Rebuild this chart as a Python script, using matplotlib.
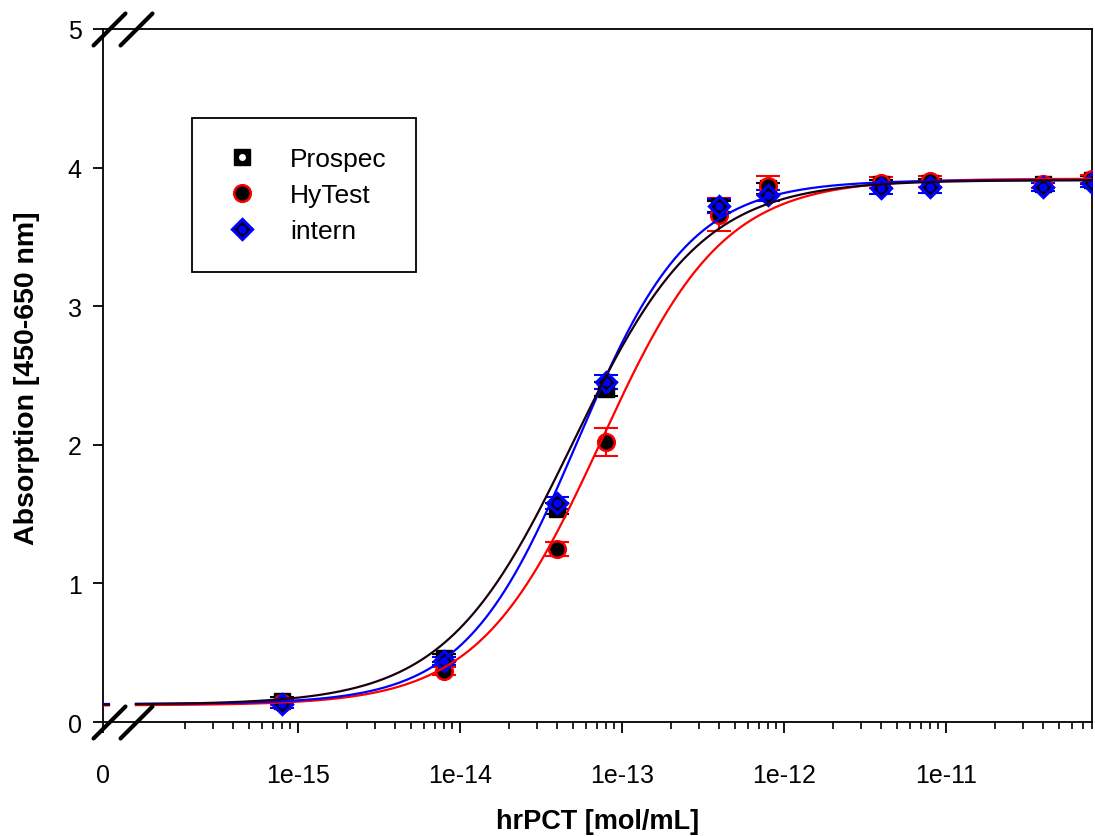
import numpy as np
import matplotlib.pyplot as plt
from matplotlib.lines import Line2D
from matplotlib.markers import MarkerStyle
from matplotlib.ticker import FixedLocator, FixedFormatter, NullFormatter

plt.rcParams['font.family'] = ['Liberation Sans', 'DejaVu Sans']

# hrPCT concentrations (mol/mL)
conc = np.array([8e-16, 8e-15, 4e-14, 8e-14, 4e-13, 8e-13, 4e-12, 8e-12, 4e-11, 8e-11])

prospec = [0.15, 0.46, 1.54, 2.40, 3.72, 3.85, 3.88, 3.89, 3.88, 3.91]
prospec_err = [0.03, 0.03, 0.04, 0.05, 0.04, 0.04, 0.03, 0.03, 0.03, 0.03]
hytest = [0.14, 0.37, 1.25, 2.02, 3.66, 3.87, 3.89, 3.90, 3.88, 3.92]
hytest_err = [0.02, 0.03, 0.05, 0.10, 0.12, 0.07, 0.04, 0.04, 0.03, 0.03]
intern = [0.13, 0.44, 1.58, 2.45, 3.72, 3.80, 3.85, 3.86, 3.86, 3.89]
intern_err = [0.03, 0.03, 0.04, 0.05, 0.05, 0.04, 0.04, 0.04, 0.03, 0.03]

# 4-parameter logistic fits: bottom, top, EC50, hill slope
fit_prospec = (0.125, 3.91, 5.0e-14, 1.10)
fit_hytest = (0.12, 3.92, 7.4e-14, 1.15)
fit_intern = (0.13, 3.91, 5.3e-14, 1.25)

major_ticks = [0, 1e-15, 1e-14, 1e-13, 1e-12, 1e-11]
major_labels = ['0', '1e-15', '1e-14', '1e-13', '1e-12', '1e-11']


def logistic(x, bottom, top, ec50, hill):
    x = np.asarray(x, float)
    with np.errstate(divide='ignore'):
        return bottom + (top - bottom) / (1 + (ec50 / x) ** hill)


# log axis with a short linear stretch for the zero point (broken axis)
LOW = 1e-16
GAP = 0.203


def fwd(x):
    x = np.asarray(x, float)
    with np.errstate(divide='ignore', invalid='ignore'):
        lg = np.log10(np.where(x > 0, x, 1.0))
    return np.where(x >= LOW, lg, np.log10(LOW) - GAP + GAP * x / LOW)


def inv(p):
    p = np.asarray(p, float)
    with np.errstate(over='ignore'):
        return np.where(p >= np.log10(LOW), 10.0 ** p,
                        (p - np.log10(LOW) + GAP) / GAP * LOW)


fig = plt.figure(figsize=(10.95, 8.37), dpi=100)
ax = fig.add_axes([0.0941, 0.1362, 0.9032, 0.8280])
ax.set_xscale('function', functions=(fwd, inv))
ax.set_xlim(0, 8e-11)
ax.set_ylim(0, 5)

# error bars and markers
ax.errorbar(conc, prospec, yerr=prospec_err, fmt='none', ecolor='black',
            elinewidth=1.5, capsize=8.5, capthick=1.5, zorder=3)
ax.plot(conc, prospec, 's', ms=11.5, mfc='black', mec='black', zorder=4)
ax.plot(conc, prospec, 'o', ms=4, mfc='white', mec='white', zorder=4)

ax.errorbar(conc, hytest, yerr=hytest_err, fmt='none', ecolor='red',
            elinewidth=1.5, capsize=8.5, capthick=1.5, zorder=3)
ax.plot(conc, hytest, 'o', ms=12, mfc='black', mec='red', mew=1.8, zorder=4)

ax.errorbar(conc, intern, yerr=intern_err, fmt='none', ecolor='blue',
            elinewidth=1.5, capsize=8.5, capthick=1.5, zorder=3)
ax.plot(conc, intern, 'D', ms=10.5, mfc='black', mec='blue', mew=2.3, zorder=4)
ax.plot(conc, intern, 'o', ms=5, mfc='blue', mec='blue', zorder=4)

# fitted curves: a short stub at zero, then the log part
xs = np.concatenate([[0, 0.18 * LOW, np.nan], np.logspace(-16, np.log10(8e-11), 400)])
for fit, color in [(fit_hytest, 'red'), (fit_intern, 'blue'), (fit_prospec, '#1a0010')]:
    ys = logistic(np.where(xs > 0, xs, 1e-30), *fit)
    ys[np.isnan(xs)] = np.nan
    ax.plot(xs, ys, color=color, lw=1.6, zorder=5)

# ticks
ax.xaxis.set_major_locator(FixedLocator(major_ticks))
ax.xaxis.set_major_formatter(FixedFormatter(major_labels))
minor = [k * 10.0 ** n for n in range(-16, -10) for k in range(2, 10) if k * 10.0 ** n <= 8e-11]
ax.xaxis.set_minor_locator(FixedLocator(minor))
ax.xaxis.set_minor_formatter(NullFormatter())
ax.set_yticks([0, 1, 2, 3, 4, 5])
ax.tick_params(axis='x', which='major', direction='out', length=7.7, width=1.3,
               labelsize=18, pad=22)
ax.tick_params(axis='x', which='minor', direction='out', length=5, width=1.2)
ax.tick_params(axis='y', which='major', direction='out', length=7.5, width=1.3,
               labelsize=18, pad=8)
for s in ax.spines.values():
    s.set_linewidth(1.3)

# axis break marks
slash = MarkerStyle([(-1, -1), (1, 1)], capstyle='round')
brk = ax.get_xaxis_transform()
for xb in [0.18 * LOW, LOW]:
    for yb in [0, 1]:
        ax.plot([xb], [yb], marker=slash, ms=23, mew=3, color='black',
                transform=brk, clip_on=False, zorder=6)

ax.set_xlabel('hrPCT [mol/mL]', fontsize=19.5, fontweight='bold', va='center')
ax.xaxis.set_label_coords(0.5, -0.143)
ax.set_ylabel('Absorption [450-650 nm]', fontsize=20.5, fontweight='bold', va='center')
ax.yaxis.set_label_coords(-0.0768, 0.498)

handles = [
    (Line2D([], [], ls='none', marker='s', ms=11.5, mfc='black', mec='black'),
     Line2D([], [], ls='none', marker='o', ms=4, mfc='white', mec='white')),
    Line2D([], [], ls='none', marker='o', ms=12, mfc='black', mec='red', mew=1.8),
    (Line2D([], [], ls='none', marker='D', ms=10.5, mfc='black', mec='blue', mew=2.3),
     Line2D([], [], ls='none', marker='o', ms=5, mfc='blue', mec='blue')),
]
leg = ax.legend(handles, ['Prospec', 'HyTest', 'intern'], loc='upper left',
                bbox_to_anchor=(0.0899, 0.8716), borderaxespad=0, fontsize=19,
                frameon=True, fancybox=False, edgecolor='black', framealpha=1,
                borderpad=1.1, handlelength=1.6, handletextpad=1.02,
                labelspacing=0.46)
leg.get_frame().set_linewidth(1.3)

fig.savefig('out.png', dpi=100)
